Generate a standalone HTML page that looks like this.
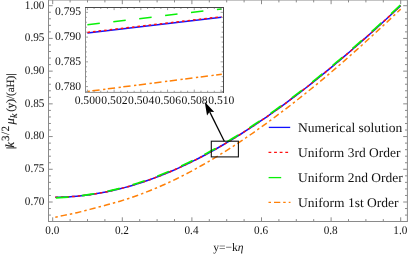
<!DOCTYPE html>
<html><head><meta charset="utf-8"><title>plot</title>
<style>html,body{margin:0;padding:0;background:#fff;}svg{display:block;opacity:0.999;will-change:transform;}</style>
</head><body>
<svg width="409" height="258" viewBox="0 0 409 258">
<rect width="409" height="258" fill="#fff"/>
<g stroke="#8a8a8a" stroke-width="1" fill="none">
<rect x="48.5" y="0.0" width="358.9" height="221.5"/>
<path d="M52.70,221.5 v-4.2 M52.70,0.0 v4.2"/>
<path d="M70.10,221.5 v-2.4 M70.10,0.0 v2.4"/>
<path d="M87.50,221.5 v-2.4 M87.50,0.0 v2.4"/>
<path d="M104.90,221.5 v-2.4 M104.90,0.0 v2.4"/>
<path d="M122.30,221.5 v-4.2 M122.30,0.0 v4.2"/>
<path d="M139.70,221.5 v-2.4 M139.70,0.0 v2.4"/>
<path d="M157.10,221.5 v-2.4 M157.10,0.0 v2.4"/>
<path d="M174.50,221.5 v-2.4 M174.50,0.0 v2.4"/>
<path d="M191.90,221.5 v-4.2 M191.90,0.0 v4.2"/>
<path d="M209.30,221.5 v-2.4 M209.30,0.0 v2.4"/>
<path d="M226.70,221.5 v-2.4 M226.70,0.0 v2.4"/>
<path d="M244.10,221.5 v-2.4 M244.10,0.0 v2.4"/>
<path d="M261.50,221.5 v-4.2 M261.50,0.0 v4.2"/>
<path d="M278.90,221.5 v-2.4 M278.90,0.0 v2.4"/>
<path d="M296.30,221.5 v-2.4 M296.30,0.0 v2.4"/>
<path d="M313.70,221.5 v-2.4 M313.70,0.0 v2.4"/>
<path d="M331.10,221.5 v-4.2 M331.10,0.0 v4.2"/>
<path d="M348.50,221.5 v-2.4 M348.50,0.0 v2.4"/>
<path d="M365.90,221.5 v-2.4 M365.90,0.0 v2.4"/>
<path d="M383.30,221.5 v-2.4 M383.30,0.0 v2.4"/>
<path d="M400.70,221.5 v-4.2 M400.70,0.0 v4.2"/>
<path d="M48.5,215.09 h2.4 M407.4,215.09 h-2.4"/>
<path d="M48.5,208.54 h2.4 M407.4,208.54 h-2.4"/>
<path d="M48.5,202.00 h4.2 M407.4,202.00 h-4.2"/>
<path d="M48.5,195.46 h2.4 M407.4,195.46 h-2.4"/>
<path d="M48.5,188.91 h2.4 M407.4,188.91 h-2.4"/>
<path d="M48.5,182.37 h2.4 M407.4,182.37 h-2.4"/>
<path d="M48.5,175.83 h2.4 M407.4,175.83 h-2.4"/>
<path d="M48.5,169.28 h4.2 M407.4,169.28 h-4.2"/>
<path d="M48.5,162.74 h2.4 M407.4,162.74 h-2.4"/>
<path d="M48.5,156.20 h2.4 M407.4,156.20 h-2.4"/>
<path d="M48.5,149.66 h2.4 M407.4,149.66 h-2.4"/>
<path d="M48.5,143.11 h2.4 M407.4,143.11 h-2.4"/>
<path d="M48.5,136.57 h4.2 M407.4,136.57 h-4.2"/>
<path d="M48.5,130.03 h2.4 M407.4,130.03 h-2.4"/>
<path d="M48.5,123.48 h2.4 M407.4,123.48 h-2.4"/>
<path d="M48.5,116.94 h2.4 M407.4,116.94 h-2.4"/>
<path d="M48.5,110.40 h2.4 M407.4,110.40 h-2.4"/>
<path d="M48.5,103.85 h4.2 M407.4,103.85 h-4.2"/>
<path d="M48.5,97.31 h2.4 M407.4,97.31 h-2.4"/>
<path d="M48.5,90.77 h2.4 M407.4,90.77 h-2.4"/>
<path d="M48.5,84.23 h2.4 M407.4,84.23 h-2.4"/>
<path d="M48.5,77.68 h2.4 M407.4,77.68 h-2.4"/>
<path d="M48.5,71.14 h4.2 M407.4,71.14 h-4.2"/>
<path d="M48.5,64.60 h2.4 M407.4,64.60 h-2.4"/>
<path d="M48.5,58.05 h2.4 M407.4,58.05 h-2.4"/>
<path d="M48.5,51.51 h2.4 M407.4,51.51 h-2.4"/>
<path d="M48.5,44.97 h2.4 M407.4,44.97 h-2.4"/>
<path d="M48.5,38.42 h4.2 M407.4,38.42 h-4.2"/>
<path d="M48.5,31.88 h2.4 M407.4,31.88 h-2.4"/>
<path d="M48.5,25.34 h2.4 M407.4,25.34 h-2.4"/>
<path d="M48.5,18.80 h2.4 M407.4,18.80 h-2.4"/>
<path d="M48.5,12.25 h2.4 M407.4,12.25 h-2.4"/>
<path d="M48.5,5.71 h4.2 M407.4,5.71 h-4.2"/>
</g>
<g fill="none" stroke-linecap="butt">
<path d="M55.31,197.34 L59.63,197.26 L63.94,197.11 L68.26,196.89 L72.58,196.60 L76.90,196.23 L81.21,195.80 L85.53,195.30 L89.85,194.72 L94.17,194.08 L98.48,193.36 L102.80,192.58 L107.12,191.73 L111.44,190.81 L115.75,189.82 L120.07,188.76 L124.39,187.64 L128.71,186.44 L133.02,185.19 L137.34,183.86 L141.66,182.47 L145.97,181.02 L150.29,179.50 L154.61,177.92 L158.93,176.28 L163.24,174.57 L167.56,172.80 L171.88,170.97 L176.20,169.08 L180.51,167.13 L184.83,165.12 L189.15,163.06 L193.47,160.93 L197.78,158.75 L202.10,156.52 L206.42,154.22 L210.74,151.88 L215.05,149.48 L219.37,147.02 L223.69,144.52 L228.00,141.96 L232.32,139.35 L236.64,136.70 L240.96,133.99 L245.27,131.24 L249.59,128.43 L253.91,125.58 L258.23,122.69 L262.54,119.74 L266.86,116.76 L271.18,113.73 L275.50,110.66 L279.81,107.54 L284.13,104.38 L288.45,101.18 L292.77,97.94 L297.08,94.66 L301.40,91.35 L305.72,87.99 L310.04,84.60 L314.35,81.16 L318.67,77.70 L322.99,74.19 L327.30,70.66 L331.62,67.08 L335.94,63.48 L340.26,59.84 L344.57,56.16 L348.89,52.46 L353.21,48.72 L357.53,44.96 L361.84,41.16 L366.16,37.33 L370.48,33.48 L374.80,29.59 L379.11,25.68 L383.43,21.74 L387.75,17.77 L392.07,13.78 L396.38,9.76 L400.70,5.71" stroke="#1010ff" stroke-width="1.5"/>
<path d="M55.31,197.30 L59.63,197.23 L63.94,197.08 L68.26,196.85 L72.58,196.56 L76.90,196.20 L81.21,195.77 L85.53,195.26 L89.85,194.69 L94.17,194.04 L98.48,193.33 L102.80,192.55 L107.12,191.69 L111.44,190.77 L115.75,189.78 L120.07,188.73 L124.39,187.60 L128.71,186.41 L133.02,185.15 L137.34,183.83 L141.66,182.44 L145.97,180.99 L150.29,179.47 L154.61,177.89 L158.93,176.24 L163.24,174.54 L167.56,172.77 L171.88,170.94 L176.20,169.05 L180.51,167.10 L184.83,165.09 L189.15,163.02 L193.47,160.90 L197.78,158.72 L202.10,156.48 L206.42,154.19 L210.74,151.84 L215.05,149.44 L219.37,146.99 L223.69,144.49 L228.00,141.93 L232.32,139.32 L236.64,136.66 L240.96,133.96 L245.27,131.20 L249.59,128.40 L253.91,125.55 L258.23,122.65 L262.54,119.71 L266.86,116.73 L271.18,113.70 L275.50,110.62 L279.81,107.51 L284.13,104.35 L288.45,101.15 L292.77,97.91 L297.08,94.63 L301.40,91.31 L305.72,87.96 L310.04,84.56 L314.35,81.13 L318.67,77.66 L322.99,74.16 L327.30,70.62 L331.62,67.05 L335.94,63.44 L340.26,59.80 L344.57,56.13 L348.89,52.43 L353.21,48.69 L357.53,44.92 L361.84,41.13 L366.16,37.30 L370.48,33.44 L374.80,29.56 L379.11,25.65 L383.43,21.71 L387.75,17.74 L392.07,13.74 L396.38,9.72 L400.70,5.68" stroke="#ff1010" stroke-width="1.5" stroke-dasharray="2.6 3.0"/>
<path d="M55.31,197.80 L59.63,197.63 L63.94,197.38 L68.26,197.06 L72.58,196.67 L76.90,196.21 L81.21,195.68 L85.53,195.08 L89.85,194.44 L94.17,193.77 L98.48,193.02 L102.80,192.20 L107.12,191.32 L111.44,190.36 L115.75,189.34 L120.07,188.25 L124.39,187.10 L128.71,185.87 L133.02,184.58 L137.34,183.23 L141.66,181.80 L145.97,180.32 L150.29,178.77 L154.61,177.15 L158.93,175.49 L163.24,173.78 L167.56,172.01 L171.88,170.19 L176.20,168.30 L180.51,166.35 L184.83,164.34 L189.15,162.27 L193.47,160.15 L197.78,157.97 L202.10,155.73 L206.42,153.44 L210.74,151.09 L215.05,148.69 L219.37,146.24 L223.69,143.73 L228.00,141.18 L232.32,138.57 L236.64,135.91 L240.96,133.21 L245.27,130.45 L249.59,127.65 L253.91,124.80 L258.23,121.90 L262.54,118.96 L266.86,115.97 L271.18,112.94 L275.50,109.87 L279.81,106.75 L284.13,103.60 L288.45,100.40 L292.77,97.16 L297.08,93.88 L301.40,90.56 L305.72,87.20 L310.04,83.81 L314.35,80.38 L318.67,76.91 L322.99,73.41 L327.30,69.87 L331.62,66.30 L335.94,62.69 L340.26,59.05 L344.57,55.38 L348.89,51.67 L353.21,47.94 L357.53,44.17 L361.84,40.37 L366.16,36.55 L370.48,32.69 L374.80,28.81 L379.11,24.89 L383.43,20.95 L387.75,16.99 L392.07,12.99 L396.38,8.97 L400.70,4.92" stroke="#08f008" stroke-width="1.7" stroke-dasharray="12.7 13.33" stroke-dashoffset="-0.5"/>
<path d="M55.31,217.18 L59.63,216.25 L63.94,215.37 L68.26,214.53 L72.58,213.65 L76.90,212.68 L81.21,211.63 L85.53,210.53 L89.85,209.39 L94.17,208.24 L98.48,207.10 L102.80,205.98 L107.12,204.84 L111.44,203.67 L115.75,202.45 L120.07,201.18 L124.39,199.83 L128.71,198.42 L133.02,196.95 L137.34,195.43 L141.66,193.84 L145.97,192.20 L150.29,190.49 L154.61,188.72 L158.93,186.89 L163.24,185.00 L167.56,183.05 L171.88,181.03 L176.20,178.95 L180.51,176.81 L184.83,174.61 L189.15,172.36 L193.47,170.04 L197.78,167.67 L202.10,165.25 L206.42,162.77 L210.74,160.24 L215.05,157.66 L219.37,155.03 L223.69,152.36 L228.00,149.63 L232.32,146.86 L236.64,144.04 L240.96,141.16 L245.27,138.25 L249.59,135.28 L253.91,132.28 L258.23,129.23 L262.54,126.14 L266.86,123.01 L271.18,119.84 L275.50,116.64 L279.81,113.40 L284.13,110.13 L288.45,106.82 L292.77,103.48 L297.08,100.10 L301.40,96.68 L305.72,93.23 L310.04,89.75 L314.35,86.22 L318.67,82.67 L322.99,79.07 L327.30,75.45 L331.62,71.78 L335.94,68.08 L340.26,64.35 L344.57,60.59 L348.89,56.79 L353.21,52.96 L357.53,49.11 L361.84,45.22 L366.16,41.31 L370.48,37.37 L374.80,33.41 L379.11,29.41 L383.43,25.40 L387.75,21.36 L392.07,17.30 L396.38,13.22 L400.70,9.11" stroke="#ff8008" stroke-width="1.5" stroke-dasharray="2.5 3.0 6.3 3.0"/>
</g>
<rect x="85.4" y="7.5" width="137.79999999999998" height="84.7" fill="#fff" stroke="none"/>
<g fill="none">
<path d="M87.4,32.9 L221.5,17.2" stroke="#1010ff" stroke-width="1.5"/>
<path d="M87.4,32.4 L221.5,16.7" stroke="#ff1010" stroke-width="1.5" stroke-dasharray="2.6 3.0"/>
<path d="M87.4,24.8 L221.5,8.9" stroke="#08f008" stroke-width="1.5" stroke-dasharray="12.5 13.58"/>
<path d="M87.6,91.42 L221.8,74.3" stroke="#ff8008" stroke-width="1.5" stroke-dasharray="2.3 2.5 7.3 3.5"/>
</g>
<g stroke="#777" stroke-width="0.7" fill="none">
<path d="M87.40,92.2 v-2.6 M87.40,7.5 v2.6"/>
<path d="M94.08,92.2 v-1.5 M94.08,7.5 v1.5"/>
<path d="M100.76,92.2 v-1.5 M100.76,7.5 v1.5"/>
<path d="M107.44,92.2 v-1.5 M107.44,7.5 v1.5"/>
<path d="M114.12,92.2 v-2.6 M114.12,7.5 v2.6"/>
<path d="M120.80,92.2 v-1.5 M120.80,7.5 v1.5"/>
<path d="M127.48,92.2 v-1.5 M127.48,7.5 v1.5"/>
<path d="M134.16,92.2 v-1.5 M134.16,7.5 v1.5"/>
<path d="M140.84,92.2 v-2.6 M140.84,7.5 v2.6"/>
<path d="M147.52,92.2 v-1.5 M147.52,7.5 v1.5"/>
<path d="M154.20,92.2 v-1.5 M154.20,7.5 v1.5"/>
<path d="M160.88,92.2 v-1.5 M160.88,7.5 v1.5"/>
<path d="M167.56,92.2 v-2.6 M167.56,7.5 v2.6"/>
<path d="M174.24,92.2 v-1.5 M174.24,7.5 v1.5"/>
<path d="M180.92,92.2 v-1.5 M180.92,7.5 v1.5"/>
<path d="M187.60,92.2 v-1.5 M187.60,7.5 v1.5"/>
<path d="M194.28,92.2 v-2.6 M194.28,7.5 v2.6"/>
<path d="M200.96,92.2 v-1.5 M200.96,7.5 v1.5"/>
<path d="M207.64,92.2 v-1.5 M207.64,7.5 v1.5"/>
<path d="M214.32,92.2 v-1.5 M214.32,7.5 v1.5"/>
<path d="M221.00,92.2 v-2.6 M221.00,7.5 v2.6"/>
<path d="M85.4,91.55 h1.5 M223.2,91.55 h-1.5"/>
<path d="M85.4,86.60 h2.6 M223.2,86.60 h-2.6"/>
<path d="M85.4,81.65 h1.5 M223.2,81.65 h-1.5"/>
<path d="M85.4,76.70 h1.5 M223.2,76.70 h-1.5"/>
<path d="M85.4,71.75 h1.5 M223.2,71.75 h-1.5"/>
<path d="M85.4,66.80 h1.5 M223.2,66.80 h-1.5"/>
<path d="M85.4,61.85 h2.6 M223.2,61.85 h-2.6"/>
<path d="M85.4,56.90 h1.5 M223.2,56.90 h-1.5"/>
<path d="M85.4,51.95 h1.5 M223.2,51.95 h-1.5"/>
<path d="M85.4,47.00 h1.5 M223.2,47.00 h-1.5"/>
<path d="M85.4,42.05 h1.5 M223.2,42.05 h-1.5"/>
<path d="M85.4,37.10 h2.6 M223.2,37.10 h-2.6"/>
<path d="M85.4,32.15 h1.5 M223.2,32.15 h-1.5"/>
<path d="M85.4,27.20 h1.5 M223.2,27.20 h-1.5"/>
<path d="M85.4,22.25 h1.5 M223.2,22.25 h-1.5"/>
<path d="M85.4,17.30 h1.5 M223.2,17.30 h-1.5"/>
<path d="M85.4,12.35 h2.6 M223.2,12.35 h-2.6"/>
</g>
<g fill="none" stroke-width="1" stroke-linecap="square">
<path d="M85.5,7.5 V92.5" stroke="#8c8c8c"/>
<path d="M85.5,92.4 H223.5" stroke="#8c8c8c"/>
<path d="M85.5,7.5 H223.5" stroke="#484848"/>
<path d="M223.5,7.5 V92.5" stroke="#484848"/>
</g>
<rect x="211.3" y="141.2" width="27.1" height="15.7" fill="none" stroke="#111" stroke-width="1.1"/>
<path d="M224.3,141.2 L209.60,111.65" stroke="#000" stroke-width="1.25" fill="none"/>
<path d="M204.70,101.80 L214.21,111.93 L209.60,111.65 L207.04,115.49 Z" fill="#000"/>
<g font-family="Liberation Serif, serif" fill="#151515" text-rendering="geometricPrecision">
<text transform="translate(52.30,233.60) scale(0.95,1)" text-anchor="middle" font-size="11.8">0.0</text>
<text transform="translate(121.90,233.60) scale(0.95,1)" text-anchor="middle" font-size="11.8">0.2</text>
<text transform="translate(191.50,233.60) scale(0.95,1)" text-anchor="middle" font-size="11.8">0.4</text>
<text transform="translate(261.10,233.60) scale(0.95,1)" text-anchor="middle" font-size="11.8">0.6</text>
<text transform="translate(330.70,233.60) scale(0.95,1)" text-anchor="middle" font-size="11.8">0.8</text>
<text transform="translate(400.30,233.60) scale(0.95,1)" text-anchor="middle" font-size="11.8">1.0</text>
<text transform="translate(44.40,204.90) scale(0.95,1)" text-anchor="end" font-size="11.8">0.70</text>
<text transform="translate(44.40,172.18) scale(0.95,1)" text-anchor="end" font-size="11.8">0.75</text>
<text transform="translate(44.40,139.47) scale(0.95,1)" text-anchor="end" font-size="11.8">0.80</text>
<text transform="translate(44.40,106.75) scale(0.95,1)" text-anchor="end" font-size="11.8">0.85</text>
<text transform="translate(44.40,74.04) scale(0.95,1)" text-anchor="end" font-size="11.8">0.90</text>
<text transform="translate(44.40,41.32) scale(0.95,1)" text-anchor="end" font-size="11.8">0.95</text>
<text transform="translate(44.40,8.61) scale(0.95,1)" text-anchor="end" font-size="11.8">1.00</text>
<text transform="translate(87.70,104.30) scale(0.985,1)" text-anchor="middle" font-size="11.8">0.500</text>
<text transform="translate(114.42,104.30) scale(0.985,1)" text-anchor="middle" font-size="11.8">0.502</text>
<text transform="translate(141.14,104.30) scale(0.985,1)" text-anchor="middle" font-size="11.8">0.504</text>
<text transform="translate(167.86,104.30) scale(0.985,1)" text-anchor="middle" font-size="11.8">0.506</text>
<text transform="translate(194.58,104.30) scale(0.985,1)" text-anchor="middle" font-size="11.8">0.508</text>
<text transform="translate(221.30,104.30) scale(0.985,1)" text-anchor="middle" font-size="11.8">0.510</text>
<text transform="translate(81.10,89.50) scale(0.985,1)" text-anchor="end" font-size="11.8">0.780</text>
<text transform="translate(81.10,64.75) scale(0.985,1)" text-anchor="end" font-size="11.8">0.785</text>
<text transform="translate(81.10,40.00) scale(0.985,1)" text-anchor="end" font-size="11.8">0.790</text>
<text transform="translate(81.10,15.25) scale(0.985,1)" text-anchor="end" font-size="11.8">0.795</text>
</g>
<g font-family="Liberation Serif, serif" font-size="13.3" fill="#151515" text-rendering="geometricPrecision">
<text x="298.0" y="131.7" textLength="104.2" lengthAdjust="spacingAndGlyphs">Numerical solution</text>
<text x="298.0" y="157.1" textLength="102.4" lengthAdjust="spacingAndGlyphs">Uniform 3rd Order</text>
<text x="298.0" y="182.4" textLength="104.8" lengthAdjust="spacingAndGlyphs">Uniform 2nd Order</text>
<text x="298.0" y="207.1" textLength="100.6" lengthAdjust="spacingAndGlyphs">Uniform 1st Order</text>
</g>
<g fill="none" stroke-width="1.3">
<path d="M268.8,127.4 H290.2" stroke="#1010ff"/>
<path d="M268.5,152.4 H290.4" stroke="#ff1010" stroke-dasharray="2.8 2.8"/>
<path d="M268.6,177.6 H281.2" stroke="#08f008"/>
<path d="M268.5,202.4 H290.5" stroke="#ff8008" stroke-dasharray="2.5 3.0 6.3 2.9"/>
</g>
<text x="213.2" y="251.1" font-family="Liberation Serif, serif" font-size="11.6" fill="#151515" text-rendering="geometricPrecision">y=−k<tspan font-style="italic">η</tspan></text>
<g transform="translate(14.0,148.4) rotate(-90)" font-family="Liberation Serif, serif" font-size="11" fill="#151515" stroke="#151515" stroke-width="0.15" text-rendering="geometricPrecision">
<text x="-0.6" y="0">|</text>
<text x="0.9" y="0" font-style="italic" font-size="12.3">k</text>
<text x="7.4" y="-4.6" textLength="15.0" lengthAdjust="spacing">3/2</text>
<text x="24.0" y="0" font-style="italic" font-size="12.5">μ</text>
<text x="30.5" y="2.6" font-style="italic" font-size="9.8">k</text>
<text x="36.6" y="0">(y)/(aH)|</text>
</g>
</svg>
</body></html>
